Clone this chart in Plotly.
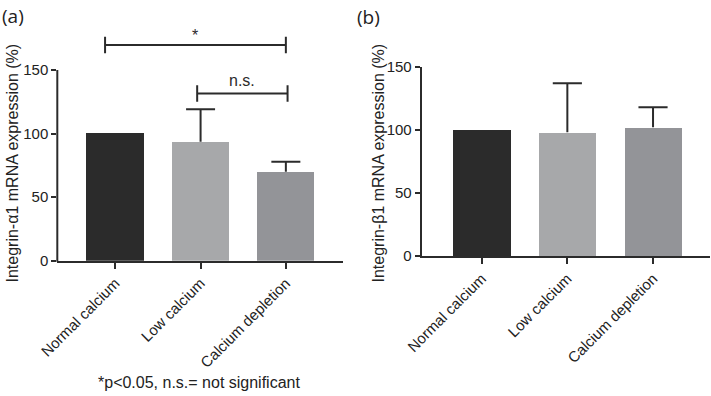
import plotly.graph_objects as go

# ---------------- data ----------------
categories = ["Normal calcium", "Low calcium", "Calcium depletion"]
alpha1_mean = [100, 93.6, 70.0]
alpha1_err = [0, 25.6, 7.8]
beta1_mean = [100, 98.0, 102.0]
beta1_err = [0, 38.8, 15.8]
y_ticks = [0, 50, 100, 150]
bar_colors = ["#2b2b2b", "#a7a8aa", "#939498"]
# significance comparisons: (from position, to position, label, bracket height)
comparisons = [(-0.12, 2.0, "*", 169.6), (0.96, 2.02, "n.s.", 131.6)]
footnote = "*p<0.05, n.s.= not significant"

W, H = 711, 396
def px(x):
    return x / W
def py(y):
    return 1 - y / H

FONT = "Liberation Sans, Arial, sans-serif"
INK = "#2b2b2b"
pos = list(range(len(categories)))
CAP = 0.17

fig = go.Figure()

for mean, err, xa, ya in [(alpha1_mean, alpha1_err, "x", "y"), (beta1_mean, beta1_err, "x2", "y2")]:
    fig.add_trace(go.Bar(
        x=pos, y=mean, xaxis=xa, yaxis=ya,
        marker=dict(color=bar_colors, line=dict(width=0)),
        width=0.67, showlegend=False, hoverinfo="skip",
    ))
    ex, ey = [], []
    for p, m, e in zip(pos, mean, err):
        if e > 0:
            ex += [p, p, None, p - CAP, p + CAP, None]
            ey += [m, m + e, None, m + e, m + e, None]
    fig.add_trace(go.Scatter(x=ex, y=ey, xaxis=xa, yaxis=ya, mode="lines",
                             line=dict(color=INK, width=2), showlegend=False, hoverinfo="skip"))

# significance brackets (panel a)
h = 6.5
for x0, x1, lab, yb in comparisons:
    fig.add_trace(go.Scatter(
        x=[x0, x0, None, x0, x1, None, x1, x1],
        y=[yb - h, yb + h, None, yb, yb, None, yb - h, yb + h],
        xaxis="x", yaxis="y", mode="lines",
        line=dict(color=INK, width=2), showlegend=False, hoverinfo="skip",
    ))
    fig.add_annotation(x=(x0 + x1) / 2, y=yb + (7.5 if lab == "*" else 10.5),
                       xref="x", yref="y", text=lab, showarrow=False,
                       font=dict(family=FONT, size=16, color=INK),
                       yanchor="middle")

axis_common = dict(showgrid=False, zeroline=False, linecolor=INK, linewidth=2,
                   ticks="outside", tickwidth=2, tickcolor=INK, automargin=False,
                   tickfont=dict(family=FONT, size=15, color="#222"))

ya_px_per = (260.7 - 70) / 150
ya_top_val = 190
fig.update_layout(
    xaxis=dict(domain=[px(57.3), px(343)], range=[-0.68, 2.67], anchor="y",
               showline=True, ticklen=6, tickangle=-45,
               tickvals=pos, ticktext=categories, **axis_common),
    yaxis=dict(domain=[py(260.7), py(260.7 - ya_top_val * ya_px_per)], range=[0, ya_top_val],
               anchor="x", showline=False, tickvals=y_ticks, ticklen=5, **axis_common),
    xaxis2=dict(domain=[px(421.7), px(710)], range=[-0.70, 2.665], anchor="y2",
                showline=True, ticklen=6, tickangle=-45,
                tickvals=pos, ticktext=categories, **axis_common),
    yaxis2=dict(domain=[py(256), py(66.7)], range=[0, 150], anchor="x2",
                showline=True, tickvals=y_ticks, ticklen=5, **axis_common),
)

# y axis line for panel a (0 to 150 only)
fig.add_shape(type="line", xref="paper", yref="paper",
              x0=px(57.3), x1=px(57.3), y0=py(261.7), y1=py(70),
              line=dict(color=INK, width=2))

# axis titles
for xc, text in [(12.5, "Integrin-α1 mRNA expression (%)"), (378.5, "Integrin-β1 mRNA expression (%)")]:
    fig.add_annotation(x=px(xc), y=py(163), xref="paper", yref="paper", text=text,
                       textangle=-90, showarrow=False, xanchor="center", yanchor="middle",
                       font=dict(family=FONT, size=16, color="#222"))

# panel labels
fig.add_annotation(x=px(0), y=py(16), xref="paper", yref="paper", text="(a)", showarrow=False,
                   xanchor="left", yanchor="middle", font=dict(family="Open Sans", size=19, color="#222"))
fig.add_annotation(x=px(355), y=py(17), xref="paper", yref="paper", text="(b)", showarrow=False,
                   xanchor="left", yanchor="middle", font=dict(family="Open Sans", size=19, color="#222"))

# footnote
fig.add_annotation(x=px(199), y=py(382.5), xref="paper", yref="paper", text=footnote,
                   showarrow=False, xanchor="center", yanchor="middle",
                   font=dict(family=FONT, size=16, color="#222"))

fig.update_layout(width=W, height=H, margin=dict(l=0, r=0, t=0, b=0),
                  paper_bgcolor="white", plot_bgcolor="white", bargap=0)

fig.write_html("out.html", config={"displayModeBar": False},
               post_script="document.body.style.margin='0';")
